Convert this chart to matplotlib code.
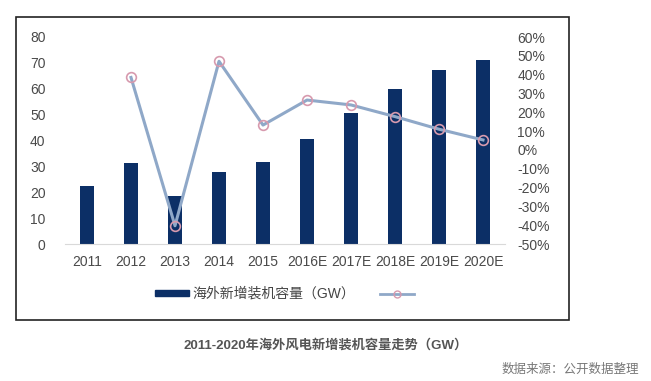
import numpy as np
import matplotlib
matplotlib.use("Agg")
import matplotlib.pyplot as plt
from matplotlib.lines import Line2D
from matplotlib.patches import Rectangle
from matplotlib.ticker import FuncFormatter

plt.rcParams["font.family"] = ["Liberation Sans", "Noto Sans CJK SC", "DejaVu Sans"]

years = ["2011", "2012", "2013", "2014", "2015", "2016E", "2017E", "2018E", "2019E", "2020E"]
capacity_gw = [22.5, 31.2, 18.7, 27.7, 31.6, 40.6, 50.5, 59.9, 67.2, 71.1]
growth_pct = [np.nan, 38.5, -40.3, 47.1, 13.2, 26.5, 23.9, 17.7, 11.0, 5.3]

bar_label = "海外新增装机容量（GW）"
title = "2011-2020年海外风电新增装机容量走势（GW）"
source = "数据来源：公开数据整理"

navy = "#0c2f66"
line_c = "#8fa8c8"
text_c = "#555555"

fig = plt.figure(figsize=(6.51, 3.81), dpi=100)
W, H = 651, 381

# outer frame around chart
fig.patches.append(Rectangle((16 / W, 1 - 320 / H), (569 - 16) / W, (320 - 17) / H,
                             transform=fig.transFigure, fill=False, ec="#222222", lw=1.2))

ax = fig.add_axes([65 / W, 1 - 244 / H, (505 - 65) / W, (244 - 37) / H])
x = np.arange(len(years))
ax.bar(x, capacity_gw, width=0.32, color=navy, zorder=2)
ax.set_ylim(0, 80)
ax.set_xlim(-0.5, len(years) - 0.5)
ax.set_yticks(np.arange(0, 81, 10))
ax.set_xticks(x, years)
for s in ["top", "right", "left"]:
    ax.spines[s].set_visible(False)
ax.spines["bottom"].set_color("#d9d9d9")
ax.tick_params(axis="both", length=0, labelsize=10, colors="#4a4a4a")
ax.tick_params(axis="y", pad=14)
ax.tick_params(axis="x", pad=8)

ax2 = ax.twinx()
ax2.plot(x, growth_pct, color=line_c, lw=2.2, marker="o", ms=7,
         mfc="none", mec="#d79aae", mew=1.2, zorder=3)
ax2.set_ylim(-50, 60)
ax2.set_yticks(np.arange(-50, 61, 10))
ax2.yaxis.set_major_formatter(FuncFormatter(lambda v, p: f"{int(v)}%"))
for s in ["top", "right", "left", "bottom"]:
    ax2.spines[s].set_visible(False)
ax2.tick_params(axis="y", length=0, labelsize=10, colors="#4a4a4a", pad=9)

handles = [Rectangle((0, 0), 1, 1, color=navy),
           Line2D([], [], color=line_c, lw=2, marker="o", ms=5, mfc="none", mec="#d79aae")]
fig.legend(handles, [bar_label, ""], loc="center left", bbox_to_anchor=(142 / W, 1 - 294 / H),
           ncol=2, frameon=False, fontsize=10, handlelength=2.5, handleheight=0.35,
           columnspacing=1.8, handletextpad=0.2, labelcolor="#444444")

fig.text(326 / W, 1 - 345 / H, title, ha="center", va="center", fontsize=9.5,
         fontweight="bold", color=text_c)
fig.text(639 / W, 1 - 370 / H, source, ha="right", va="center", fontsize=9, color="#777777")

fig.savefig("out.png", dpi=100)
